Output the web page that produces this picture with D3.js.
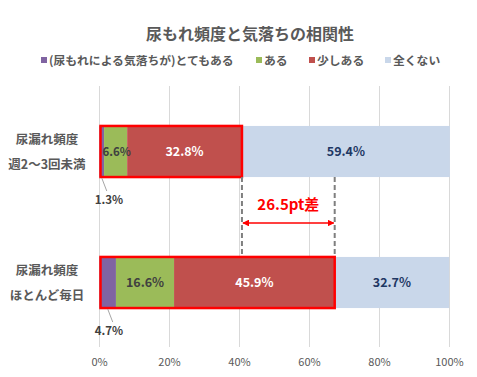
<!DOCTYPE html>
<html>
<head>
<meta charset="utf-8">
<script src="https://cdn.jsdelivr.net/npm/d3@7"></script>
<style>
  body { margin: 0; background: #fff; }
  text { font-family: "Noto Sans CJK JP", "Noto Sans", sans-serif; }
</style>
</head>
<body>
<svg id="chart" width="477" height="377"></svg>
<script>
// data
var title = "尿もれ頻度と気落ちの相関性"
var categories = [["尿漏れ頻度", "週2〜3回未満"], ["尿漏れ頻度", "ほとんど毎日"]]
var seriesNames = ["(尿もれによる気落ちが)とてもある", "ある", "少しある", "全くない"]
var seriesColors = ["#8064A2", "#9BBB59", "#C0504D", "#C9D7EA"]
var labelColors = ["#404040", "#404040", "#FFFFFF", "#1F3864"]
var values = [
  [1.3, 6.6, 32.8, 59.4],
  [4.7, 16.6, 45.9, 32.7]
]
var ticks = [0, 20, 40, 60, 80, 100]
var diffLabel = "26.5pt差"

var svg = d3.select("#chart")

var x = d3.scaleLinear().domain([0, 100]).range([99.5, 449.5])
var y = d3.scaleBand().domain([0, 1]).range([86, 348]).paddingInner(0.61).paddingOuter(0.305)

// build stacked rows
var rows = values.map(function(v, i){
  var obj = {idx: i}
  seriesNames.forEach(function(s, j){ obj[j] = v[j] })
  return obj
})
var stack = d3.stack().keys(d3.range(seriesNames.length))
var layers = stack(rows)

// title
svg.append("text")
  .attr("x", 250).attr("y", 40)
  .attr("text-anchor", "middle")
  .style("font-size", "16px").style("font-weight", "bold")
  .style("fill", "#595959")
  .text(title)

// legend
var legendX = [41, 256, 309, 385]
var lg = svg.append("g").attr("class", "legend")
seriesNames.forEach(function(s, i){
  lg.append("rect")
    .attr("x", legendX[i]).attr("y", 57)
    .attr("width", 6).attr("height", 6)
    .style("fill", seriesColors[i])
  lg.append("text")
    .attr("x", legendX[i] + 8).attr("y", 64.5)
    .style("font-size", "11.8px").style("font-weight", "bold")
    .style("fill", "#595959")
    .text(s)
})

// gridlines
svg.append("g").selectAll("line").data(ticks).join("line")
  .attr("x1", function(d){ return x(d) }).attr("x2", function(d){ return x(d) })
  .attr("y1", 86).attr("y2", 347)
  .style("stroke", "#D9D9D9").style("stroke-width", 1)

// tick labels
svg.append("g").selectAll("text").data(ticks).join("text")
  .attr("x", function(d){ return x(d) }).attr("y", 366)
  .attr("text-anchor", "middle")
  .style("font-size", "11px").style("fill", "#595959")
  .text(function(d){ return d + "%" })

// bars
var barG = svg.append("g")
layers.forEach(function(layer, j){
  barG.selectAll(".s" + j).data(layer).join("rect")
    .attr("class", "s" + j)
    .attr("x", function(d){ return x(d[0]) })
    .attr("width", function(d){ return x(d[1]) - x(d[0]) })
    .attr("y", function(d, i){ return y(i) })
    .attr("height", y.bandwidth())
    .style("fill", seriesColors[j])
})

// red outline around first three segments
var boxes = layers[2]
svg.append("g").selectAll("rect").data(boxes).join("rect")
  .attr("x", function(d){ return x(0) + 1 })
  .attr("width", function(d){ return x(d[1]) - x(0) - 1 })
  .attr("y", function(d, i){ return y(i) })
  .attr("height", y.bandwidth())
  .style("fill", "none").style("stroke", "#FF0000").style("stroke-width", 2.5)

// data labels inside bars
layers.forEach(function(layer, j){
  if (j === 0) return
  svg.append("g").selectAll("text").data(layer).join("text")
    .attr("x", function(d){ return (x(d[0]) + x(d[1])) / 2 + (j === 1 && d[1] - d[0] < 10 ? 1 : 0) })
    .attr("y", function(d, i){ return y(i) + y.bandwidth() / 2 + 4.5 })
    .attr("text-anchor", "middle")
    .style("font-size", function(d){ return (j === 1 && d[1] - d[0] < 10) ? "11.5px" : "12.5px" })
    .style("font-weight", "bold")
    .style("fill", labelColors[j])
    .text(function(d){ return (d[1] - d[0]).toFixed(1) + "%" })
})

// small segment labels below bars with leader lines
var smallG = svg.append("g")
layers[0].forEach(function(d, i){
  var cx = (x(d[0]) + x(d[1])) / 2
  var bottom = y(i) + y.bandwidth()
  smallG.append("line")
    .attr("x1", cx).attr("y1", bottom + 1)
    .attr("x2", cx + 5).attr("y2", bottom + 14)
    .style("stroke", "#A6A6A6").style("stroke-width", 1)
  smallG.append("text")
    .attr("x", 109).attr("y", bottom + 27)
    .attr("text-anchor", "middle")
    .style("font-size", "11.5px").style("font-weight", "bold")
    .style("fill", "#404040")
    .text(values[i][0].toFixed(1) + "%")
})

// difference annotation
var xa = x(layers[2][0][1]), xb = x(layers[2][1][1])
var yTop = y(0) + y.bandwidth(), yBot = y(1)
var ann = svg.append("g")
;[xa, xb].forEach(function(xx){
  ann.append("line")
    .attr("x1", xx).attr("x2", xx)
    .attr("y1", yTop).attr("y2", yBot)
    .style("stroke", "#7F7F7F").style("stroke-width", 2)
    .style("stroke-dasharray", "5,3")
})
var defs = svg.append("defs")
defs.append("marker").attr("id", "arr").attr("viewBox", "0 0 10 10")
  .attr("refX", 9).attr("refY", 5).attr("markerWidth", 4.5).attr("markerHeight", 4.5)
  .attr("orient", "auto-start-reverse")
  .append("path").attr("d", "M0,0 L10,5 L0,10 z").style("fill", "#FF0000")
ann.append("line")
  .attr("x1", xa + 1).attr("x2", xb - 1)
  .attr("y1", 223).attr("y2", 223)
  .style("stroke", "#FF0000").style("stroke-width", 1.5)
  .attr("marker-start", "url(#arr)").attr("marker-end", "url(#arr)")
ann.append("text")
  .attr("x", (xa + xb) / 2).attr("y", 210)
  .attr("text-anchor", "middle")
  .style("font-size", "15px").style("font-weight", "bold")
  .style("fill", "#FF0000")
  .text(diffLabel)

// category labels
var catG = svg.append("g")
categories.forEach(function(c, i){
  var cy = y(i) + y.bandwidth() / 2
  catG.append("text")
    .attr("x", 47).attr("y", cy - 8)
    .attr("text-anchor", "middle")
    .style("font-size", "12.5px").style("font-weight", "bold")
    .style("fill", "#595959")
    .text(c[0])
  catG.append("text")
    .attr("x", 47).attr("y", cy + 17)
    .attr("text-anchor", "middle")
    .style("font-size", "12.5px").style("font-weight", "bold")
    .style("fill", "#595959")
    .text(c[1])
})
</script>
</body>
</html>
